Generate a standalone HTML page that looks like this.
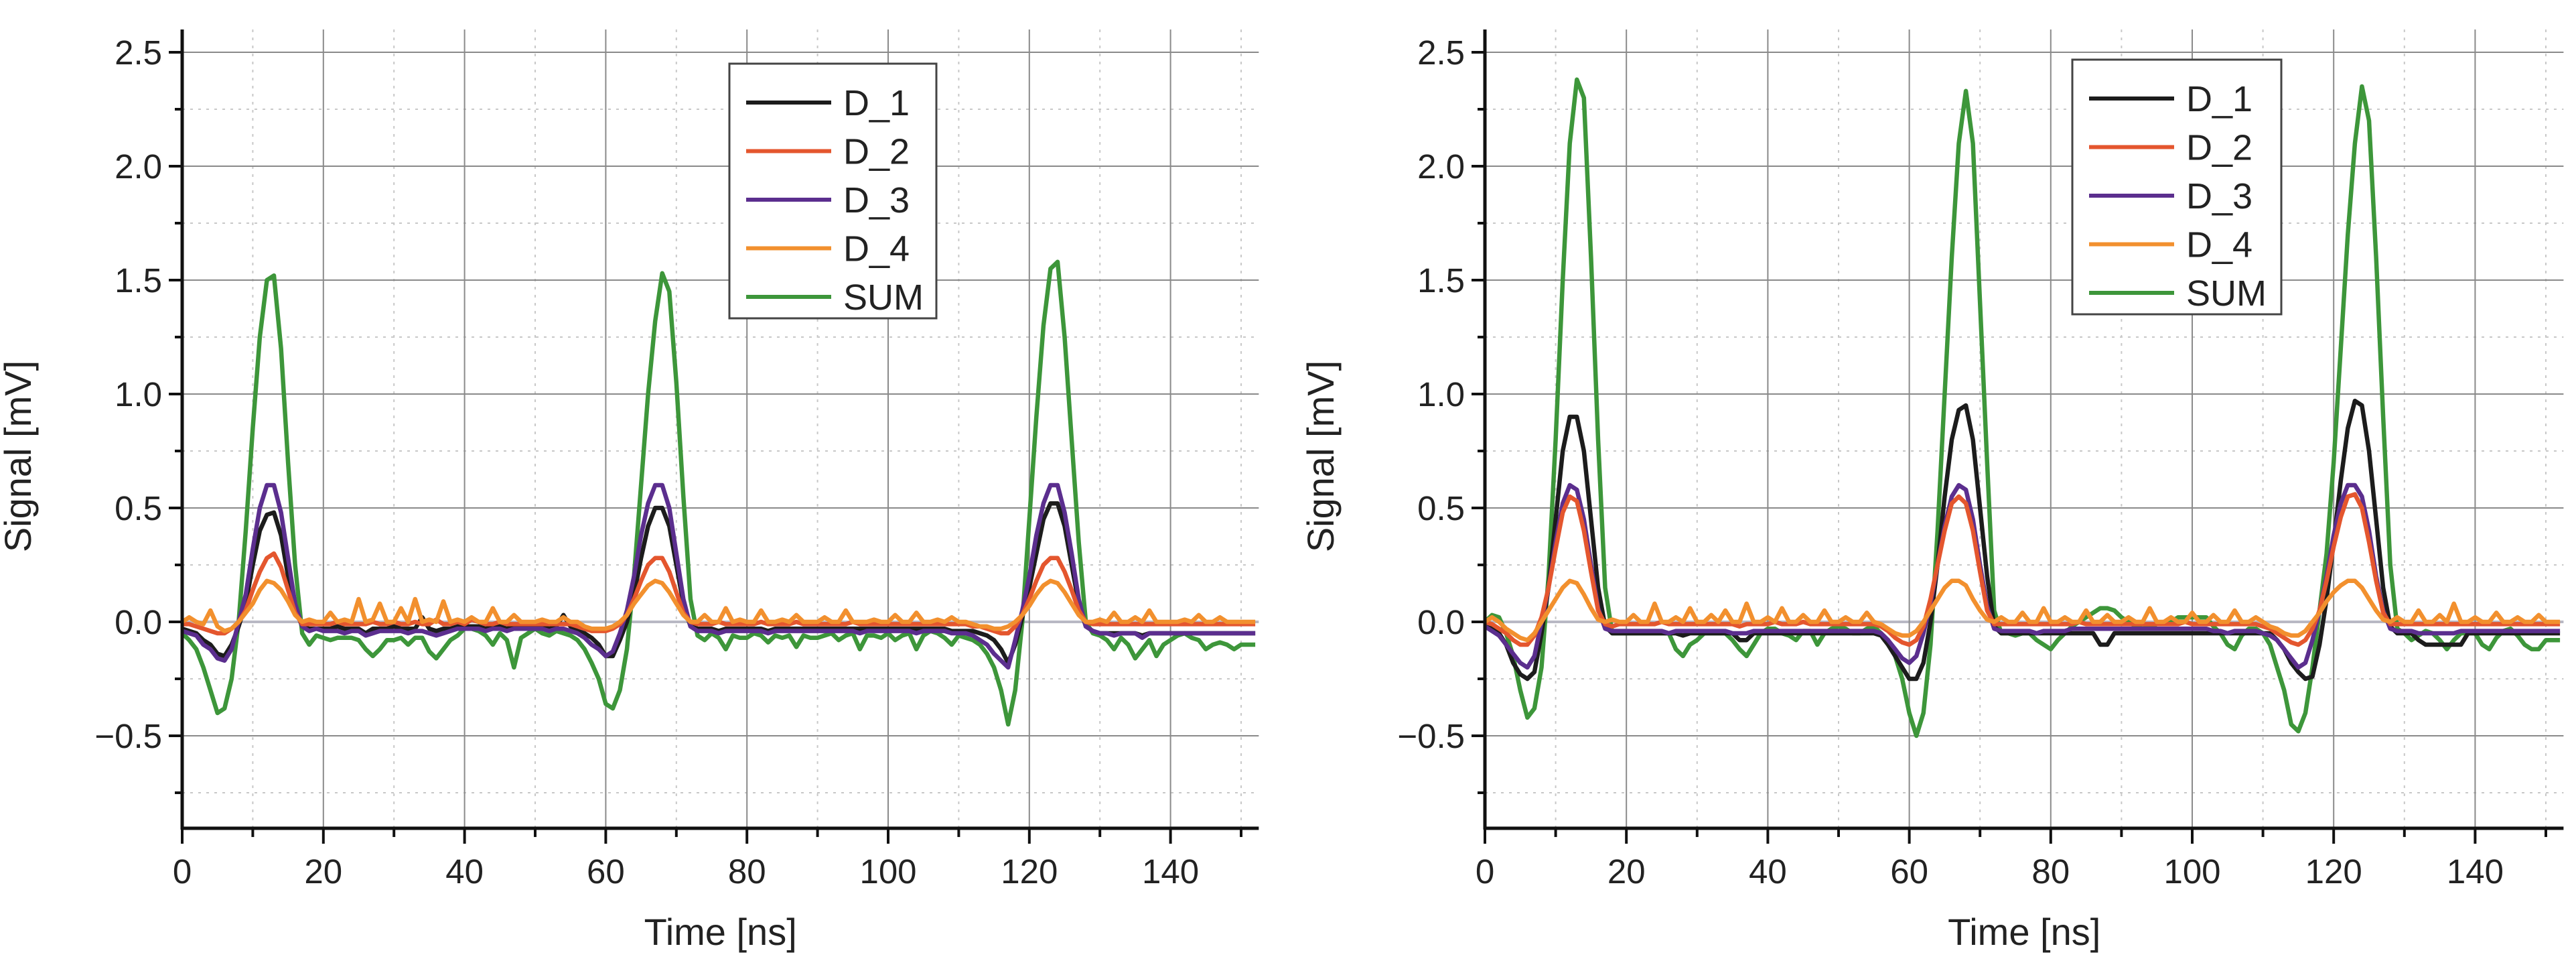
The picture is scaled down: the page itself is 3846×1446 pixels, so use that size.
<!DOCTYPE html>
<html><head><meta charset="utf-8"><style>
html,body{margin:0;padding:0;background:#fff;}
svg{display:block;}
text{font-family:"Liberation Sans",Arial,sans-serif;fill:#222;}
</style></head><body>
<svg id="chart" width="3846" height="1446" viewBox="0 0 3846 1446" xmlns="http://www.w3.org/2000/svg"></svg>
<script>
const timeLeft = Array.from({length:153},(_, i)=>i);
const leftSUM = [-0.05,-0.08,-0.12,-0.2,-0.3,-0.4,-0.38,-0.25,0.0,0.4,
0.85,1.25,1.5,1.52,1.2,0.7,0.25,-0.05,-0.1,-0.06,
-0.07,-0.08,-0.07,-0.07,-0.07,-0.08,-0.12,-0.15,-0.12,-0.08,
-0.08,-0.07,-0.1,-0.07,-0.07,-0.13,-0.16,-0.12,-0.08,-0.06,
-0.03,-0.03,-0.04,-0.06,-0.1,-0.05,-0.08,-0.2,-0.07,-0.05,
-0.03,-0.05,-0.06,-0.04,-0.05,-0.06,-0.08,-0.12,-0.18,-0.25,
-0.36,-0.38,-0.3,-0.12,0.2,0.6,1.0,1.32,1.53,1.45,
1.05,0.55,0.1,-0.06,-0.08,-0.05,-0.07,-0.12,-0.06,-0.07,
-0.07,-0.05,-0.06,-0.09,-0.06,-0.07,-0.06,-0.11,-0.06,-0.07,
-0.07,-0.06,-0.05,-0.08,-0.06,-0.05,-0.12,-0.06,-0.06,-0.07,
-0.05,-0.08,-0.06,-0.05,-0.12,-0.06,-0.04,-0.05,-0.07,-0.1,
-0.06,-0.07,-0.08,-0.1,-0.14,-0.2,-0.3,-0.45,-0.3,0.0,
0.45,0.9,1.3,1.55,1.58,1.25,0.8,0.35,0.0,-0.05,
-0.06,-0.08,-0.12,-0.07,-0.1,-0.16,-0.12,-0.08,-0.15,-0.1,
-0.08,-0.06,-0.05,-0.07,-0.08,-0.12,-0.1,-0.09,-0.1,-0.12,
-0.1,-0.1,-0.1];
const leftD1 = [-0.03,-0.04,-0.05,-0.08,-0.1,-0.14,-0.15,-0.1,-0.02,0.08,
0.25,0.4,0.47,0.48,0.38,0.2,0.06,-0.02,-0.03,-0.03,
-0.03,-0.03,-0.02,-0.03,-0.03,-0.03,-0.05,-0.03,-0.03,-0.03,
-0.02,-0.03,-0.03,-0.03,0.02,-0.03,-0.04,-0.03,-0.03,-0.02,
-0.02,-0.02,-0.02,-0.03,-0.02,-0.02,-0.03,-0.02,-0.02,-0.02,
-0.02,-0.02,-0.03,-0.02,0.03,-0.02,-0.04,-0.05,-0.07,-0.1,
-0.15,-0.15,-0.08,0.0,0.12,0.28,0.42,0.5,0.5,0.42,
0.25,0.08,-0.02,-0.03,-0.03,-0.03,-0.04,-0.03,-0.03,-0.03,
-0.03,-0.03,-0.03,-0.04,-0.03,-0.03,-0.03,-0.03,-0.03,-0.03,
-0.03,-0.03,-0.03,-0.03,-0.03,-0.03,-0.03,-0.03,-0.03,-0.03,
-0.03,-0.03,-0.03,-0.03,-0.03,-0.03,-0.03,-0.03,-0.03,-0.04,
-0.04,-0.04,-0.04,-0.05,-0.06,-0.08,-0.12,-0.18,-0.1,0.02,
0.15,0.3,0.45,0.52,0.52,0.42,0.25,0.08,-0.02,-0.04,
-0.05,-0.05,-0.05,-0.05,-0.05,-0.05,-0.06,-0.05,-0.05,-0.05,
-0.05,-0.05,-0.05,-0.05,-0.05,-0.05,-0.05,-0.05,-0.05,-0.05,
-0.05,-0.05,-0.05];
const leftD3 = [-0.04,-0.05,-0.06,-0.1,-0.12,-0.16,-0.17,-0.12,0.0,0.12,
0.32,0.5,0.6,0.6,0.48,0.28,0.08,-0.02,-0.04,-0.03,
-0.04,-0.04,-0.04,-0.05,-0.04,-0.04,-0.06,-0.05,-0.04,-0.04,
-0.04,-0.04,-0.05,-0.04,-0.04,-0.05,-0.06,-0.05,-0.04,-0.03,
-0.03,-0.03,-0.03,-0.04,-0.03,-0.03,-0.04,-0.03,-0.03,-0.03,
-0.03,-0.03,-0.04,-0.03,-0.03,-0.04,-0.05,-0.07,-0.1,-0.12,
-0.15,-0.13,-0.05,0.05,0.2,0.38,0.52,0.6,0.6,0.5,
0.3,0.1,-0.02,-0.04,-0.04,-0.04,-0.05,-0.04,-0.04,-0.04,
-0.04,-0.04,-0.04,-0.05,-0.04,-0.04,-0.04,-0.04,-0.04,-0.04,
-0.04,-0.04,-0.04,-0.04,-0.04,-0.04,-0.05,-0.04,-0.04,-0.04,
-0.04,-0.04,-0.04,-0.04,-0.05,-0.04,-0.04,-0.04,-0.04,-0.05,
-0.05,-0.05,-0.06,-0.08,-0.1,-0.14,-0.17,-0.2,-0.08,0.05,
0.2,0.38,0.52,0.6,0.6,0.48,0.3,0.1,-0.02,-0.04,
-0.05,-0.05,-0.06,-0.05,-0.05,-0.05,-0.07,-0.05,-0.05,-0.05,
-0.05,-0.05,-0.05,-0.05,-0.05,-0.05,-0.05,-0.05,-0.05,-0.05,
-0.05,-0.05,-0.05];
const leftD2 = [-0.01,-0.01,-0.02,-0.03,-0.04,-0.05,-0.05,-0.03,0.0,0.05,
0.14,0.22,0.28,0.3,0.24,0.14,0.04,-0.01,-0.01,-0.01,
-0.01,-0.01,0.0,-0.01,-0.01,-0.01,-0.01,0.0,-0.01,-0.01,
0.0,-0.01,-0.01,0.0,-0.01,-0.01,0.01,-0.01,-0.01,0.0,
-0.01,0.01,0.0,-0.01,-0.01,0.0,-0.01,-0.01,-0.01,-0.01,
-0.01,-0.01,-0.01,-0.01,-0.01,-0.01,-0.02,-0.03,-0.04,-0.04,
-0.04,-0.03,-0.01,0.03,0.1,0.18,0.25,0.28,0.28,0.22,
0.13,0.04,0.0,-0.01,-0.01,-0.01,0.0,-0.01,-0.01,-0.01,
-0.01,-0.01,0.0,-0.01,-0.01,-0.01,-0.01,0.0,-0.01,-0.01,
-0.01,-0.01,-0.01,-0.01,-0.01,0.0,-0.01,-0.01,-0.01,-0.01,
-0.01,-0.01,-0.01,-0.01,-0.01,-0.01,-0.01,-0.01,-0.01,-0.01,
-0.01,-0.01,-0.02,-0.02,-0.03,-0.04,-0.05,-0.05,-0.02,0.03,
0.1,0.18,0.25,0.28,0.28,0.22,0.14,0.05,0.0,-0.01,
-0.01,-0.01,-0.01,-0.01,-0.01,-0.01,-0.01,-0.01,-0.01,-0.01,
-0.01,-0.01,-0.01,-0.01,-0.01,-0.01,-0.01,-0.01,-0.01,-0.01,
-0.01,-0.01,-0.01];
const leftD4 = [0.0,0.02,0.0,-0.01,0.05,-0.02,-0.04,-0.03,0.0,0.04,
0.08,0.14,0.18,0.17,0.14,0.09,0.03,0.0,0.01,0.0,
0.0,0.04,0.0,0.01,0.0,0.1,0.0,0.01,0.08,0.0,
0.0,0.06,0.0,0.1,0.0,0.01,0.0,0.09,0.0,0.01,
0.0,0.02,0.0,0.0,0.06,0.0,0.0,0.03,0.0,0.0,
0.0,0.01,0.0,0.0,0.02,0.0,0.0,-0.02,-0.03,-0.03,
-0.03,-0.02,0.0,0.03,0.08,0.12,0.16,0.18,0.17,0.13,
0.08,0.03,0.0,0.0,0.03,0.0,0.0,0.06,0.0,0.01,
0.0,0.0,0.05,0.0,0.0,0.01,0.0,0.03,0.0,0.0,
0.0,0.02,0.0,0.0,0.05,0.0,0.0,0.0,0.01,0.0,
0.0,0.03,0.0,0.0,0.04,0.0,0.0,0.01,0.0,0.02,
0.0,0.0,-0.01,-0.02,-0.02,-0.03,-0.03,-0.02,0.0,0.03,
0.07,0.12,0.16,0.18,0.17,0.13,0.08,0.03,0.0,0.0,
0.01,0.0,0.04,0.0,0.0,0.02,0.0,0.05,0.0,0.0,
0.0,0.0,0.01,0.0,0.03,0.0,0.0,0.02,0.0,0.0,
0.0,0.0,0.0];

const timeRight = Array.from({length:153},(_, i)=>i);
const rightSUM = [0.0,0.03,0.02,-0.05,-0.15,-0.3,-0.42,-0.38,-0.2,0.2,
0.8,1.5,2.1,2.38,2.3,1.6,0.8,0.15,-0.05,-0.05,
-0.05,-0.05,-0.05,-0.05,-0.05,-0.05,-0.05,-0.12,-0.15,-0.1,
-0.08,-0.05,-0.05,-0.05,-0.05,-0.08,-0.12,-0.15,-0.1,-0.05,
-0.03,-0.03,-0.05,-0.06,-0.08,-0.04,-0.04,-0.1,-0.05,-0.03,
-0.02,-0.03,-0.05,-0.05,-0.03,-0.02,-0.05,-0.08,-0.15,-0.25,
-0.4,-0.5,-0.4,-0.1,0.4,1.0,1.6,2.1,2.33,2.1,
1.4,0.7,0.05,-0.05,-0.05,-0.06,-0.05,-0.05,-0.08,-0.1,
-0.12,-0.08,-0.05,-0.02,0.0,0.02,0.04,0.06,0.06,0.05,
0.02,0.0,-0.02,-0.03,-0.02,-0.01,0.0,0.0,0.02,0.02,
0.02,0.02,0.02,-0.02,-0.05,-0.1,-0.12,-0.06,-0.03,-0.03,
-0.05,-0.1,-0.2,-0.3,-0.45,-0.48,-0.4,-0.2,0.05,0.3,
0.7,1.2,1.7,2.1,2.35,2.2,1.6,0.9,0.25,-0.03,
-0.05,-0.08,-0.06,-0.04,-0.05,-0.08,-0.12,-0.08,-0.05,-0.05,
-0.05,-0.1,-0.12,-0.07,-0.04,-0.03,-0.06,-0.1,-0.12,-0.12,
-0.08,-0.08,-0.08];
const rightD1 = [-0.02,-0.03,-0.05,-0.1,-0.18,-0.23,-0.25,-0.22,-0.05,0.15,
0.45,0.75,0.9,0.9,0.75,0.45,0.15,-0.02,-0.05,-0.05,
-0.05,-0.05,-0.05,-0.05,-0.05,-0.05,-0.05,-0.05,-0.06,-0.05,
-0.05,-0.05,-0.05,-0.05,-0.05,-0.05,-0.08,-0.08,-0.05,-0.05,
-0.05,-0.05,-0.05,-0.05,-0.05,-0.05,-0.05,-0.05,-0.05,-0.05,
-0.05,-0.05,-0.05,-0.05,-0.05,-0.05,-0.06,-0.1,-0.15,-0.2,
-0.25,-0.25,-0.18,0.0,0.25,0.55,0.8,0.93,0.95,0.8,
0.5,0.2,-0.02,-0.05,-0.05,-0.05,-0.05,-0.05,-0.05,-0.05,
-0.05,-0.05,-0.05,-0.05,-0.05,-0.05,-0.05,-0.1,-0.1,-0.05,
-0.05,-0.05,-0.05,-0.05,-0.05,-0.05,-0.05,-0.05,-0.05,-0.05,
-0.05,-0.05,-0.05,-0.05,-0.05,-0.05,-0.05,-0.05,-0.05,-0.05,
-0.05,-0.05,-0.08,-0.12,-0.18,-0.22,-0.25,-0.24,-0.1,0.1,
0.35,0.62,0.85,0.97,0.95,0.75,0.45,0.15,-0.02,-0.05,
-0.05,-0.05,-0.08,-0.1,-0.1,-0.1,-0.1,-0.1,-0.1,-0.05,
-0.05,-0.05,-0.05,-0.05,-0.05,-0.05,-0.05,-0.05,-0.05,-0.05,
-0.05,-0.05,-0.05];
const rightD3 = [-0.02,-0.04,-0.06,-0.1,-0.14,-0.18,-0.2,-0.15,0.0,0.15,
0.35,0.52,0.6,0.58,0.45,0.25,0.06,-0.03,-0.04,-0.04,
-0.04,-0.04,-0.04,-0.04,-0.04,-0.04,-0.05,-0.04,-0.04,-0.04,
-0.04,-0.04,-0.04,-0.04,-0.04,-0.05,-0.05,-0.05,-0.04,-0.04,
-0.04,-0.04,-0.04,-0.04,-0.04,-0.04,-0.04,-0.04,-0.04,-0.04,
-0.04,-0.04,-0.04,-0.04,-0.04,-0.04,-0.05,-0.08,-0.12,-0.16,
-0.18,-0.15,-0.05,0.08,0.25,0.42,0.55,0.6,0.58,0.45,
0.25,0.07,-0.03,-0.04,-0.04,-0.04,-0.04,-0.04,-0.05,-0.04,
-0.04,-0.04,-0.04,-0.03,-0.03,-0.03,-0.03,-0.03,-0.03,-0.03,
-0.03,-0.03,-0.03,-0.03,-0.03,-0.03,-0.03,-0.03,-0.03,-0.03,
-0.03,-0.03,-0.03,-0.04,-0.04,-0.05,-0.04,-0.04,-0.04,-0.04,
-0.05,-0.06,-0.08,-0.12,-0.16,-0.2,-0.18,-0.08,0.05,0.2,
0.38,0.52,0.6,0.6,0.55,0.4,0.2,0.05,-0.03,-0.04,
-0.04,-0.04,-0.05,-0.05,-0.05,-0.05,-0.05,-0.05,-0.04,-0.04,
-0.04,-0.04,-0.04,-0.04,-0.04,-0.04,-0.04,-0.04,-0.04,-0.04,
-0.04,-0.04,-0.04];
const rightD2 = [0.0,-0.01,-0.03,-0.05,-0.08,-0.1,-0.1,-0.06,0.02,0.15,
0.32,0.48,0.55,0.53,0.4,0.22,0.05,-0.01,-0.02,-0.01,
-0.01,-0.01,-0.01,-0.01,-0.01,0.0,-0.01,-0.01,-0.01,-0.01,
-0.01,-0.01,-0.01,-0.01,-0.01,-0.01,-0.02,-0.01,-0.01,-0.01,
-0.01,0.0,-0.01,-0.01,-0.01,0.0,-0.01,-0.01,-0.01,-0.01,
-0.01,-0.01,-0.01,-0.01,-0.01,-0.01,-0.02,-0.04,-0.07,-0.09,
-0.1,-0.08,-0.02,0.1,0.25,0.4,0.52,0.55,0.52,0.4,
0.22,0.05,-0.01,-0.01,-0.01,-0.01,-0.01,-0.01,-0.01,-0.01,
-0.01,-0.01,-0.01,-0.01,0.0,-0.01,-0.01,-0.01,-0.01,-0.01,
-0.01,-0.01,-0.01,-0.01,-0.01,-0.01,-0.01,-0.01,-0.01,0.0,
-0.01,-0.01,-0.01,-0.01,-0.01,-0.01,-0.01,-0.01,-0.01,-0.01,
-0.02,-0.03,-0.05,-0.07,-0.09,-0.1,-0.08,-0.03,0.05,0.18,
0.33,0.46,0.55,0.56,0.5,0.35,0.18,0.04,-0.01,-0.01,
-0.01,-0.01,-0.01,-0.01,-0.01,-0.01,-0.01,-0.01,-0.01,-0.01,
-0.01,-0.01,-0.01,-0.01,-0.01,-0.01,-0.01,-0.01,-0.01,-0.01,
-0.01,-0.01,-0.01];
const rightD4 = [0.0,0.02,0.0,-0.03,-0.05,-0.07,-0.08,-0.05,0.0,0.05,
0.1,0.15,0.18,0.17,0.12,0.06,0.01,0.0,0.01,0.0,
0.0,0.03,0.0,0.0,0.08,0.0,0.0,0.02,0.0,0.06,
0.0,0.0,0.03,0.0,0.05,0.0,0.0,0.08,0.0,0.0,
0.02,0.0,0.06,0.0,0.0,0.03,0.0,0.0,0.05,0.0,
0.0,0.02,0.0,0.0,0.04,0.0,-0.01,-0.03,-0.05,-0.06,
-0.06,-0.04,0.0,0.05,0.1,0.15,0.18,0.18,0.16,0.1,
0.05,0.01,0.0,0.02,0.0,0.0,0.04,0.0,0.0,0.06,
0.0,0.0,0.02,0.0,0.0,0.05,0.0,0.0,0.03,0.0,
0.0,0.02,0.0,0.0,0.06,0.0,0.0,0.02,0.0,0.0,
0.04,0.0,0.0,0.03,0.0,0.0,0.05,0.0,0.0,0.02,
0.0,-0.02,-0.03,-0.05,-0.06,-0.06,-0.04,0.0,0.04,0.09,
0.13,0.16,0.18,0.18,0.15,0.1,0.05,0.01,0.0,0.02,
0.0,0.0,0.05,0.0,0.0,0.03,0.0,0.08,0.0,0.0,
0.02,0.0,0.0,0.04,0.0,0.0,0.02,0.0,0.0,0.03,
0.0,0.0,0.0];

const yTicks = [2.5,2.0,1.5,1.0,0.5,0.0,-0.5];
const yTickLabels = ["2.5","2.0","1.5","1.0","0.5","0.0","\u22120.5"];
const yMinorTicks = [2.25,1.75,1.25,0.75,0.25,-0.25,-0.75];
const xTicks = [0,20,40,60,80,100,120,140];
const xMinorTicks = [10,30,50,70,90,110,130,150];
const seriesNames = ["D_1","D_2","D_3","D_4","SUM"];
const seriesColors = {"D_1":"#1c1c1c","D_2":"#e4562e","D_3":"#5b2e8e","D_4":"#f2902e","SUM":"#3d963a"};

const NS = "http://www.w3.org/2000/svg";
const svg = document.getElementById('chart');
function mk(tag, attrs, parent){
  const e = document.createElementNS(NS, tag);
  for (const k in attrs) e.setAttribute(k, attrs[k]);
  (parent||svg).appendChild(e);
  return e;
}
const Y0 = 928, YPX = 340, YMIN = -0.906, YMAX = 2.6, XMAX = 152.5;

function drawPanel(px, pxPerNs, times, data, legendBox, panelName){
  const g = mk('g', {});
  
  
  const xs = t => px + t * pxPerNs;
  const ys = v => Y0 - v * YPX;
  const top = ys(YMAX), bot = ys(YMIN), right = xs(XMAX);
  yMinorTicks.forEach(v => {
    const l = mk('line', {x1:px, x2:right, y1:ys(v), y2:ys(v), stroke:'#c8c8c8', 'stroke-width':2, 'stroke-dasharray':'4 8'}, g);
    
    
  });
  xMinorTicks.forEach(t => {
    const l = mk('line', {x1:xs(t), x2:xs(t), y1:top, y2:bot, stroke:'#c8c8c8', 'stroke-width':2, 'stroke-dasharray':'4 8'}, g);
    
    
  });
  yTicks.forEach(v => {
    const l = mk('line', {x1:px, x2:right, y1:ys(v), y2:ys(v), stroke: v===0?'#b8b8c4':'#8a8a8a', 'stroke-width': v===0?4:2}, g);
    
    
  });
  xTicks.forEach(t => {
    const l = mk('line', {x1:xs(t), x2:xs(t), y1:top, y2:bot, stroke:'#8a8a8a', 'stroke-width':2}, g);
    
    
  });
  const order = ["SUM","D_1","D_3","D_2","D_4"];
  order.forEach(name => {
    const vals = data[name];
    const pts = vals.map((v,i) => xs(times[i]).toFixed(1)+','+ys(v).toFixed(1)).join(' ');
    const pl = mk('polyline', {points:pts, fill:'none', stroke:seriesColors[name], 'stroke-width': 6.5, 'stroke-linejoin':'round'}, g);
    
    
  });
  const ya = mk('line', {x1:px, x2:px, y1:top, y2:bot+2, stroke:'#111', 'stroke-width':5}, g);
  
  
  const xa = mk('line', {x1:px-2, x2:right, y1:bot, y2:bot, stroke:'#111', 'stroke-width':5}, g);
  
  
  yTicks.forEach((v,i) => {
    const tk = mk('line', {x1:px-20, x2:px, y1:ys(v), y2:ys(v), stroke:'#111', 'stroke-width':4}, g);
    
    
    const tx = mk('text', {x:px-30, y:ys(v)+18, 'text-anchor':'end', 'font-size':51}, g);
    tx.textContent = yTickLabels[i];
    
    
  });
  yMinorTicks.forEach(v => {
    const tk = mk('line', {x1:px-11, x2:px, y1:ys(v), y2:ys(v), stroke:'#111', 'stroke-width':4}, g);
    
    
  });
  xTicks.forEach(t => {
    const tk = mk('line', {x1:xs(t), x2:xs(t), y1:bot, y2:bot+23, stroke:'#111', 'stroke-width':4}, g);
    
    
    const tx = mk('text', {x:xs(t), y:bot+82, 'text-anchor':'middle', 'font-size':51}, g);
    tx.textContent = String(t);
    
    
  });
  xMinorTicks.forEach(t => {
    const tk = mk('line', {x1:xs(t), x2:xs(t), y1:bot, y2:bot+13, stroke:'#111', 'stroke-width':4}, g);
    
    
  });
  const xt = mk('text', {x:(px+right)/2, y:1410, 'text-anchor':'middle', 'font-size':56}, g);
  xt.textContent = 'Time [ns]';
  
  
  const ytx = px - 226, yty = 681;
  const yt = mk('text', {x:ytx, y:yty, 'text-anchor':'middle', 'font-size':56, transform:'rotate(-90 '+ytx+' '+yty+')'}, g);
  yt.textContent = 'Signal [mV]';
  
  
  const lg = mk('g', {}, g);
  
  
  const rc = mk('rect', {x:legendBox.x, y:legendBox.y, width:legendBox.w, height:legendBox.h, fill:'#fff', stroke:'#444', 'stroke-width':3}, lg);
  
  
  seriesNames.forEach((name, i) => {
    const yy = legendBox.y + 58 + i * 72.5;
    const ln = mk('line', {x1:legendBox.x+25, x2:legendBox.x+152, y1:yy, y2:yy, stroke:seriesColors[name], 'stroke-width':6}, lg);
    
    
    const tx = mk('text', {x:legendBox.x+170, y:yy+19, 'font-size':54}, lg);
    tx.textContent = name;
    
    
  });
}

drawPanel(272, 10.54, timeLeft,
  {"D_1":leftD1,"D_2":leftD2,"D_3":leftD3,"D_4":leftD4,"SUM":leftSUM},
  {x:1089, y:95, w:309, h:380}, 'left-chart');
drawPanel(2217, 10.56, timeRight,
  {"D_1":rightD1,"D_2":rightD2,"D_3":rightD3,"D_4":rightD4,"SUM":rightSUM},
  {x:3094, y:89, w:312, h:380}, 'right-chart');
</script>
</body></html>
